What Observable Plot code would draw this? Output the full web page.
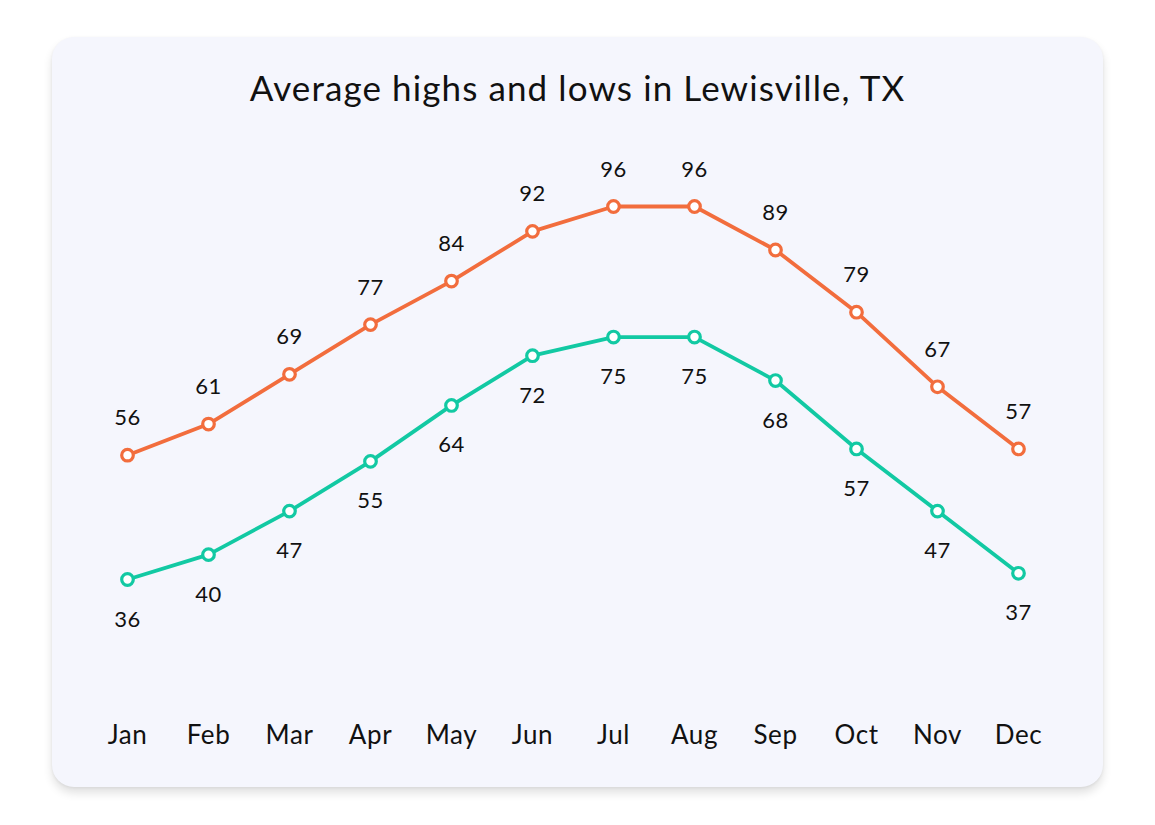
<!DOCTYPE html>
<html>
<head>
<meta charset="utf-8">
<script src="https://cdn.jsdelivr.net/npm/d3@7"></script>
<script src="https://cdn.jsdelivr.net/npm/@observablehq/plot@0.6"></script>
<style>
  html, body { margin: 0; padding: 0; background: #ffffff; width: 1155px; height: 825px; overflow: hidden; }
  #card {
    position: absolute; left: 52px; top: 37px; width: 1051px; height: 750px;
    background: #f5f6fd; border-radius: 22px;
    box-shadow: 0 6px 10px rgba(0,0,0,0.12), 0 1px 3px rgba(0,0,0,0.06);
  }
  #title {
    position: absolute; left: 0; top: 64px; width: 1155px; text-align: center;
    font-family: Lato, "Noto Sans", sans-serif; font-size: 35px; color: #111;
    letter-spacing: 1.1px; line-height: 46px;
  }
  #chart { position: absolute; left: 0; top: 0; }
  #chart svg text { letter-spacing: 0.6px; }
</style>
</head>
<body>
<div id="card"></div>
<div id="title">Average highs and lows in Lewisville, TX</div>
<div id="chart"></div>
<script>
const months = ["Jan","Feb","Mar","Apr","May","Jun","Jul","Aug","Sep","Oct","Nov","Dec"];
const highs = [56, 61, 69, 77, 84, 92, 96, 96, 89, 79, 67, 57];
const lows  = [36, 40, 47, 55, 64, 72, 75, 75, 68, 57, 47, 37];

const highColor = "#f26d3d";
const lowColor = "#12c9a3";

const highData = months.map((m, i) => ({month: m, value: highs[i]}));
const lowData = months.map((m, i) => ({month: m, value: lows[i]}));

const chart = Plot.plot({
  width: 1155,
  height: 825,
  marginLeft: 126,
  marginRight: 137,
  marginTop: 206,
  marginBottom: 246,
  style: {background: "transparent", fontFamily: "Lato, 'Noto Sans', sans-serif", color: "#111"},
  x: {type: "point", domain: months, padding: 0},
  y: {domain: [36, 96], axis: null},
  marks: [
    Plot.axisX({tickSize: 0, tickPadding: 146, fontSize: 26, fill: "#111", label: null}),
    Plot.line(highData, {x: "month", y: "value", stroke: highColor, strokeWidth: 3.8}),
    Plot.line(lowData, {x: "month", y: "value", stroke: lowColor, strokeWidth: 3.8}),
    Plot.dot(highData, {x: "month", y: "value", r: 5.8, stroke: highColor, strokeWidth: 3.2, fill: "white"}),
    Plot.dot(lowData, {x: "month", y: "value", r: 5.8, stroke: lowColor, strokeWidth: 3.2, fill: "white"}),
    Plot.text(highData, {x: "month", y: "value", text: d => String(d.value), dy: -37, fontSize: 22, fill: "#111"}),
    Plot.text(lowData, {x: "month", y: "value", text: d => String(d.value), dy: 40, fontSize: 22, fill: "#111"})
  ]
});
document.getElementById("chart").appendChild(chart);
</script>
</body>
</html>
